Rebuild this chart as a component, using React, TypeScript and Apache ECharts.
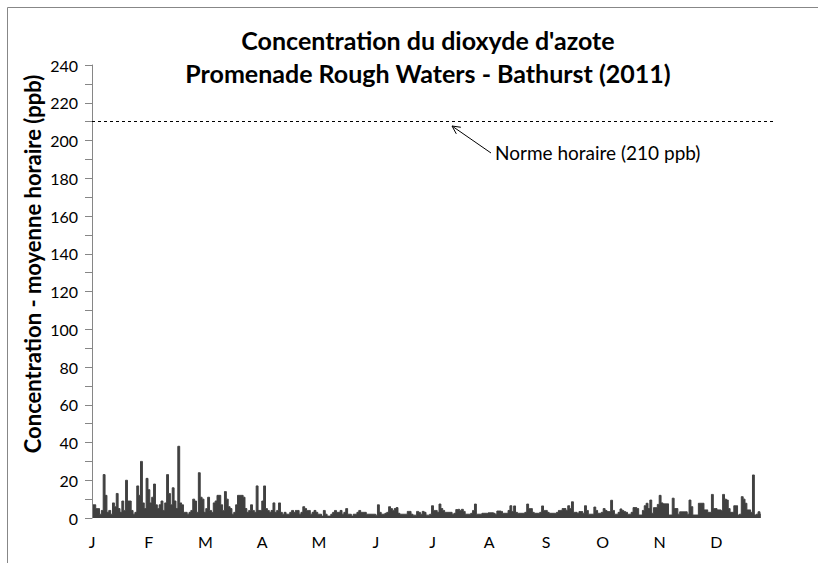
import React, { useEffect, useRef } from "react";
import * as echarts from "echarts";

// Daily values (ppb), grouped by month
const jan = [7, 7, 5, 5, 2, 4, 23, 12, 3, 4, 2, 8, 6, 13, 5, 3, 9, 4, 20, 9, 9, 4, 2, 3, 17, 12, 30, 8, 5, 21, 15];
const feb = [8, 11, 18, 7, 5, 7, 9, 4, 8, 23, 13, 7, 16, 9, 5, 38, 8, 7, 3, 3, 2, 3, 4, 10, 9, 3, 24, 11];
const mar = [10, 3, 5, 11, 4, 3, 8, 9, 12, 12, 7, 4, 14, 10, 6, 5, 2, 3, 7, 12, 12, 12, 11, 5, 3, 4, 7, 4, 3, 17, 4];
const apr = [4, 9, 17, 5, 4, 3, 4, 8, 3, 4, 8, 3, 2, 3, 2, 2, 3, 4, 3, 4, 4, 2, 3, 6, 5, 4, 4, 2, 3, 4];
const may = [3, 2, 2, 1, 4, 2, 1, 1, 2, 3, 4, 3, 3, 4, 2, 3, 5, 2, 2, 1, 2, 2, 3, 4, 3, 3, 3, 2, 2, 2, 2];
const jun = [2, 1.5, 7, 3, 2, 2, 2.5, 3, 6, 5, 4, 5, 5.5, 2.5, 2, 2, 2, 2, 3.5, 3.5, 2, 1.5, 1.5, 3.5, 3, 2, 3.5, 3, 1.5, 1.5];
const jul = [2, 6.5, 4, 4, 3, 7.4, 5, 4, 3, 3, 3, 3, 2, 2.5, 4.5, 4.6, 4, 4.6, 3.5, 2, 2, 2, 2.5, 4, 7.4, 2, 2, 2, 2.5, 2.5, 2.5];
const aug = [2.8, 2.8, 2.8, 2.5, 2, 3.7, 3.7, 3.5, 2.5, 2.5, 2.5, 4, 6.5, 3.4, 6.4, 3, 2.5, 2.5, 2.5, 2.5, 3, 7.4, 5, 5, 3, 2.5, 2.5, 2.5, 3, 6.4, 4];
const sep = [4, 3, 2.5, 2.5, 2.5, 2.5, 3, 4, 4, 5, 5, 4, 6.5, 5, 8.6, 3, 3, 2.5, 3.4, 3.4, 2.5, 6.5, 4, 2, 2, 2, 5.8, 4, 2.5, 2.5];
const oct = [3, 5, 4, 3.4, 3.4, 9.4, 4, 2, 2, 3, 4.8, 4, 3.4, 3, 2, 2, 3, 5.5, 5.5, 5, 1.6, 1.6, 4, 6.5, 7.8, 5, 9.5, 2.5, 5.5, 5.5, 7.2];
const nov = [12, 8, 7.5, 7.5, 7.5, 1.6, 1.6, 10.5, 5, 5, 2, 3.3, 3.3, 3.3, 3.3, 2, 9.5, 6, 1.6, 1.6, 1.6, 7.8, 7.8, 7.8, 4.3, 4.3, 3, 3, 12.5, 5];
const dec = [5, 4.3, 4.3, 4, 12.5, 10, 9.5, 5, 3, 3, 6.5, 6.5, 1.6, 2, 11.3, 10, 7.8, 4.3, 4.3, 3, 22.8, 1.6, 2, 3.3, 2];

const monthLabels = ["J", "F", "M", "A", "M", "J", "J", "A", "S", "O", "N", "D"];
const yTicks = { min: 0, max: 240, step: 20 };
const hourlyLimit = 210;
const daysInYear = 365;
const titleLines = ["Concentration du dioxyde d'azote", "Promenade Rough Waters - Bathurst (2011)"];
const yAxisTitle = "Concentration - moyenne horaire (ppb)";
const limitLabel = "Norme horaire (210 ppb)";

const FONT = "Lato, 'Open Sans', sans-serif";

export default function App() {
  const ref = useRef<HTMLDivElement>(null);

  useEffect(() => {
    document.body.style.margin = "0";
    if (!ref.current) return;
    const chart = echarts.init(ref.current, null, { renderer: "svg" });
    const values = [...jan, ...feb, ...mar, ...apr, ...may, ...jun, ...jul, ...aug, ...sep, ...oct, ...nov, ...dec];
    const data = values.map((v, i) => [i + 0.5, v]);
    const monthStep = daysInYear / 12;

    // arrow geometry (annotation)
    const tip = [452, 126];
    const tail = [491, 153];
    const dx = tail[0] - tip[0];
    const dy = tail[1] - tip[1];
    const len = Math.hypot(dx, dy);
    const ux = dx / len, uy = dy / len;
    const back = [tip[0] + ux * 8, tip[1] + uy * 8];
    const w1 = [back[0] - uy * 4, back[1] + ux * 4];
    const w2 = [back[0] + uy * 4, back[1] - ux * 4];

    chart.setOption({
      animation: false,
      backgroundColor: "#ffffff",
      grid: { left: 92, right: 45, top: 65, bottom: 45, containLabel: false },
      xAxis: {
        type: "value",
        min: 0,
        max: daysInYear,
        interval: monthStep,
        axisLine: { show: false },
        axisTick: { show: false },
        splitLine: { show: false },
        axisLabel: {
          margin: 15,
          fontFamily: FONT,
          fontSize: 16,
          color: "#000",
          formatter: (v: number) => {
            const k = Math.round(v / monthStep);
            return k < 12 ? monthLabels[k] : "";
          },
        },
      },
      yAxis: {
        type: "value",
        min: yTicks.min,
        max: yTicks.max,
        interval: yTicks.step,
        axisLine: { show: true, lineStyle: { color: "#868686", width: 1 } },
        axisTick: { show: true, inside: false, length: 7, lineStyle: { color: "#868686" } },
        minorTick: { show: true, splitNumber: 2, length: 7, lineStyle: { color: "#868686" } },
        splitLine: { show: false },
        axisLabel: { margin: 14, fontFamily: FONT, fontSize: 16, color: "#000" },
      },
      series: [
        {
          type: "line",
          data,
          step: "middle",
          showSymbol: false,
          symbol: "none",
          lineStyle: { color: "#404040", width: 1 },
          areaStyle: { color: "#404040", opacity: 1 },
          markLine: {
            silent: true,
            symbol: ["none", "none"],
            label: { show: false },
            lineStyle: { color: "#000", width: 1, type: [3, 3] },
            data: [{ yAxis: hourlyLimit }],
          },
        },
      ],
      graphic: [
        {
          type: "rect",
          shape: { x: 7.5, y: 7.5, width: 900, height: 900 },
          style: { fill: "none", stroke: "#878787", lineWidth: 1 },
          silent: true,
        },
        {
          type: "text",
          x: 428,
          y: 40,
          style: { text: titleLines[0], align: "center", verticalAlign: "middle", font: `bold 25px ${FONT}`, fill: "#000" },
        },
        {
          type: "text",
          x: 428,
          y: 73,
          style: { text: titleLines[1], align: "center", verticalAlign: "middle", font: `bold 25px ${FONT}`, fill: "#000" },
        },
        {
          type: "text",
          x: 32,
          y: 264,
          rotation: Math.PI / 2,
          style: { text: yAxisTitle, align: "center", verticalAlign: "middle", font: `bold 22px ${FONT}`, fill: "#000" },
        },
        {
          type: "text",
          x: 495,
          y: 152,
          style: { text: limitLabel, align: "left", verticalAlign: "middle", font: `19px ${FONT}`, fill: "#000" },
        },
        {
          type: "line",
          shape: { x1: tail[0], y1: tail[1], x2: tip[0], y2: tip[1] },
          style: { stroke: "#000", lineWidth: 1 },
        },
        {
          type: "polyline",
          shape: { points: [w1, tip, w2] },
          style: { stroke: "#000", lineWidth: 1, fill: "none" },
        },
      ],
    });
    return () => chart.dispose();
  }, []);

  return <div ref={ref} style={{ width: 818, height: 563 }} />;
}
